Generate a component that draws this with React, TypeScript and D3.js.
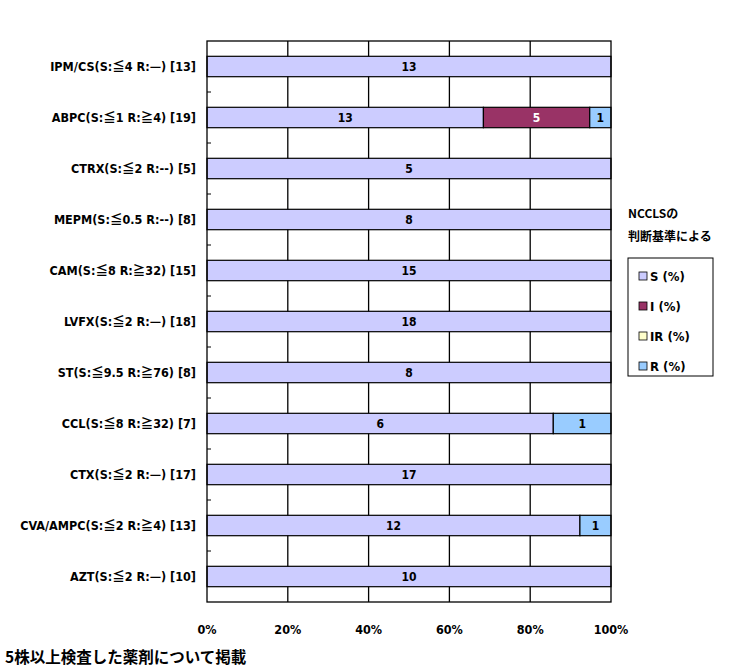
import React from "react";
import * as d3 from "d3";

const categorias = [
  "IPM/CS(S:≦4 R:—) [13]",
  "ABPC(S:≦1 R:≧4) [19]",
  "CTRX(S:≦2 R:--) [5]",
  "MEPM(S:≦0.5 R:--) [8]",
  "CAM(S:≦8 R:≧32) [15]",
  "LVFX(S:≦2 R:—) [18]",
  "ST(S:≦9.5 R:≧76) [8]",
  "CCL(S:≦8 R:≧32) [7]",
  "CTX(S:≦2 R:—) [17]",
  "CVA/AMPC(S:≦2 R:≧4) [13]",
  "AZT(S:≦2 R:—) [10]",
];

const seriesNomes = ["S (%)", "I (%)", "IR (%)", "R (%)"];
const valoresS = [13, 13, 5, 8, 15, 18, 8, 6, 17, 12, 10];
const valoresI = [0, 5, 0, 0, 0, 0, 0, 0, 0, 0, 0];
const valoresIR = [0, 0, 0, 0, 0, 0, 0, 0, 0, 0, 0];
const valoresR = [0, 1, 0, 0, 0, 0, 0, 1, 0, 1, 0];
const cores = ["#CCCCFF", "#993366", "#FFFFCC", "#99CCFF"];
const ticksX = [0, 0.2, 0.4, 0.6, 0.8, 1];

const fonte = "'DejaVu Sans Condensed', 'DejaVu Sans', sans-serif";
const fonteJP = "'Noto Sans CJK JP', sans-serif";

type Linha = { nome: string; v: number[] };

// separa os simbolos largos (≦ ≧ —) para usar a fonte japonesa
function rotulo(texto: string) {
  return texto.split(/([≦≧—])/).filter((p) => p !== "").map((p, i) =>
    /[≦≧—]/.test(p)
      ? <tspan key={i} fontFamily={fonteJP}>{p}</tspan>
      : <tspan key={i}>{p}</tspan>
  );
}

export default function App() {
  const margem = { left: 207, right: 611, top: 41, bottom: 602 };
  const linhas: Linha[] = categorias.map((nome, i) => ({
    nome,
    v: [valoresS[i], valoresI[i], valoresIR[i], valoresR[i]],
  }));

  const x = d3.scaleLinear().domain([0, 1]).range([margem.left, margem.right]);
  const y = d3
    .scaleBand()
    .domain(categorias)
    .range([margem.top, margem.bottom])
    .paddingInner(0.6)
    .paddingOuter(0.3);

  const segmentos = linhas.flatMap((l) => {
    const total = d3.sum(l.v);
    let acc = 0;
    return l.v.map((v, k) => {
      const x0 = acc / total;
      acc += v;
      return { nome: l.nome, k, v, x0, x1: acc / total };
    }).filter((s) => s.v > 0);
  });

  const passo = (margem.bottom - margem.top) / categorias.length;
  const fronteiras = categorias.slice(1).map((_, i) => margem.top + (i + 1) * passo);

  return (
    <svg
      width={738}
      height={672}
      style={{ position: "absolute", left: 0, top: 0, background: "white" }}
    >
      <g className="grid">
        {ticksX.slice(1, -1).map((t) => (
          <line key={t} x1={x(t)} x2={x(t)} y1={margem.top} y2={margem.bottom} stroke="black" strokeWidth={1.3} />
        ))}
      </g>
      <g className="barras">
        {segmentos.map((s, i) => (
          <g key={i}>
            <rect
              x={x(s.x0)}
              y={y(s.nome)}
              width={x(s.x1) - x(s.x0)}
              height={y.bandwidth()}
              fill={cores[s.k]}
              stroke="black"
              strokeWidth={1.2}
            />
            <text
              x={(x(s.x0) + x(s.x1)) / 2}
              y={(y(s.nome) ?? 0) + y.bandwidth() / 2}
              dy="0.36em"
              textAnchor="middle"
              fontFamily={fonte}
              fontWeight="bold"
              fontSize={12}
              fill={s.k === 1 ? "white" : "black"}
            >
              {s.v}
            </text>
          </g>
        ))}
      </g>
      <rect
        x={margem.left}
        y={margem.top}
        width={margem.right - margem.left}
        height={margem.bottom - margem.top}
        fill="none"
        stroke="black"
        strokeWidth={1.3}
      />
      <g className="y-ticks">
        {fronteiras.map((f, i) => (
          <line key={i} x1={margem.left} x2={margem.left + 4} y1={f} y2={f} stroke="black" />
        ))}
      </g>
      <g className="y-labels">
        {categorias.map((c) => (
          <text
            key={c}
            x={196}
            y={(y(c) ?? 0) + y.bandwidth() / 2}
            dy="0.36em"
            textAnchor="end"
            fontFamily={fonte}
            fontWeight="bold"
            fontSize={12.5}
          >
            {rotulo(c)}
          </text>
        ))}
      </g>
      <g className="x-labels">
        {ticksX.map((t) => (
          <text
            key={t}
            x={x(t)}
            y={629}
            dy="0.36em"
            textAnchor="middle"
            fontFamily={fonte}
            fontWeight="bold"
            fontSize={12.5}
          >
            {d3.format(".0%")(t)}
          </text>
        ))}
      </g>
      <g className="legenda">
        <text x={628} y={214} dy="0.36em" fontFamily={fonteJP} fontWeight="bold" fontSize={12}>NCCLSの</text>
        <text x={628} y={237} dy="0.36em" fontFamily={fonteJP} fontWeight="bold" fontSize={12}>判断基準による</text>
        <rect x={628} y={258} width={85} height={118} fill="white" stroke="black" strokeWidth={1} />
        {seriesNomes.map((n, i) => (
          <g key={n} transform={`translate(639, ${276 + i * 30})`}>
            <rect x={0} y={-4} width={8} height={8} fill={cores[i]} stroke="black" strokeWidth={0.8} />
            <text x={11} y={0} dy="0.36em" fontFamily={fonte} fontWeight="bold" fontSize={13}>{n}</text>
          </g>
        ))}
      </g>
      <text x={5} y={657} dy="0.36em" fontFamily={fonteJP} fontWeight="bold" fontSize={15.5}>
        5株以上検査した薬剤について掲載
      </text>
    </svg>
  );
}
